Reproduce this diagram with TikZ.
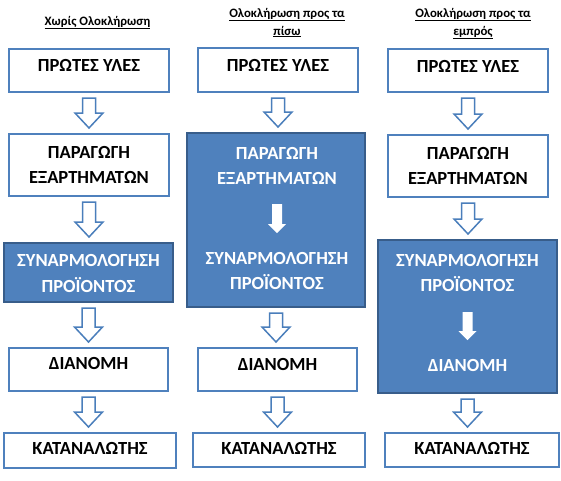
\documentclass[tikz,border=0pt]{standalone}
\usepackage{fontspec}
\setmainfont{Carlito}
\usetikzlibrary{calc}
\definecolor{accent}{HTML}{4F81BD}
\definecolor{accentdark}{HTML}{385D8A}
\definecolor{arrowline}{HTML}{4A7EBB}
\newcommand\hollowarrow[2]{%
  \draw[harrow] let \p1=(#1.south), \p2=(#2.north) in
    (\x1-6.5pt,\y1-5pt) -- (\x1+6.5pt,\y1-5pt) -- (\x1+6.5pt,\y2+20pt)
    -- (\x1+14pt,\y2+20pt) -- (\x1,\y2+5pt) -- (\x1-14pt,\y2+20pt)
    -- (\x1-6.5pt,\y2+20pt) -- cycle;}
\newcommand\whitearrow[2]{%
  \fill[white] let \p1=(#1), \p2=(#2) in
    (\x1-5pt,\y1) -- (\x1+5pt,\y1) -- (\x1+5pt,\y2+9pt)
    -- (\x1+9pt,\y2+9pt) -- (\x1,\y2) -- (\x1-9pt,\y2+9pt)
    -- (\x1-5pt,\y2+9pt) -- cycle;}
\begin{document}
\begin{tikzpicture}[x=1pt,y=-1pt,
  wbox/.style={draw=accent, line width=2pt, fill=white, inner sep=0pt},
  bbox/.style={draw=accentdark, line width=2pt, fill=accent, inner sep=0pt},
  txt/.style={font=\bfseries\fontsize{18.5}{22}\selectfont, anchor=base, inner sep=0pt, text=black},
  wtxt/.style={txt, text=white},
  ttl/.style={font=\bfseries\fontsize{12.8}{15}\selectfont, anchor=base, inner sep=0pt},
  harrow/.style={draw=arrowline, line width=1.5pt, fill=white, line join=miter}]
\useasboundingbox (0,0) rectangle (561,480);
% titles
\node[ttl] (h1) at (97.5,25) {\underline{Χωρίς Ολοκλήρωση}};
\node[ttl] (h2a) at (287,17) {\underline{Ολοκλήρωση προς τα}};
\node[ttl] (h2b) at (287,35) {\underline{πίσω}};
\node[ttl] (h3a) at (473,17) {\underline{Ολοκλήρωση προς τα}};
\node[ttl] (h3b) at (473,35) {\underline{εμπρός}};
% column 1
\node[wbox, minimum width=160pt, minimum height=43pt] (b11) at (89,70.5) {};
\node[wbox, minimum width=160pt, minimum height=62pt] (b12) at (89,165) {};
\node[bbox, minimum width=169pt, minimum height=59pt] (b13) at (88.5,272.5) {};
\node[wbox, minimum width=159pt, minimum height=43pt] (b14) at (88.5,369.5) {};
\node[wbox, minimum width=172pt, minimum height=35pt] (b15) at (90,450.5) {};
\node[txt] (t11) at (89,71) {ΠΡΩΤΕΣ ΥΛΕΣ};
\node[txt] (t12a) at (89,158) {ΠΑΡΑΓΩΓΗ};
\node[txt] (t12b) at (89,183) {ΕΞΑΡΤΗΜΑΤΩΝ};
\node[wtxt] (t13a) at (88.5,266) {ΣΥΝΑΡΜΟΛΟΓΗΣΗ};
\node[wtxt] (t13b) at (88.5,292) {ΠΡΟΪΟΝΤΟΣ};
\node[txt] (t14) at (88.5,369) {ΔΙΑΝΟΜΗ};
\node[txt] (t15) at (90,454) {ΚΑΤΑΝΑΛΩΤΗΣ};
% column 2
\node[wbox, minimum width=160pt, minimum height=44pt] (b21) at (278,70) {};
\node[bbox, minimum width=178pt, minimum height=174pt] (b22) at (276,220) {};
\node[wbox, minimum width=159pt, minimum height=43pt] (b24) at (277.5,369.5) {};
\node[wbox, minimum width=172pt, minimum height=34pt] (b25) at (279,450) {};
\node[txt] (t21) at (278,71) {ΠΡΩΤΕΣ ΥΛΕΣ};
\node[wtxt] (t22a) at (277,159) {ΠΑΡΑΓΩΓΗ};
\node[wtxt] (t22b) at (277,184) {ΕΞΑΡΤΗΜΑΤΩΝ};
\node[wtxt] (t23a) at (277,264) {ΣΥΝΑΡΜΟΛΟΓΗΣΗ};
\node[wtxt] (t23b) at (277,289) {ΠΡΟΪΟΝΤΟΣ};
\node[txt] (t24) at (277.5,370) {ΔΙΑΝΟΜΗ};
\node[txt] (t25) at (279,454) {ΚΑΤΑΝΑΛΩΤΗΣ};
\coordinate (c2s) at (277,204);
\coordinate (c2e) at (277,233);
% column 3
\node[wbox, minimum width=160pt, minimum height=43pt] (b31) at (468,70.5) {};
\node[wbox, minimum width=160pt, minimum height=62pt] (b32) at (468,166) {};
\node[bbox, minimum width=179pt, minimum height=153pt] (b33) at (467.5,316.5) {};
\node[wbox, minimum width=174pt, minimum height=34pt] (b35) at (472,450) {};
\node[txt] (t31) at (468,72) {ΠΡΩΤΕΣ ΥΛΕΣ};
\node[txt] (t32a) at (468,159) {ΠΑΡΑΓΩΓΗ};
\node[txt] (t32b) at (468,184) {ΕΞΑΡΤΗΜΑΤΩΝ};
\node[wtxt] (t33a) at (467.5,266) {ΣΥΝΑΡΜΟΛΟΓΗΣΗ};
\node[wtxt] (t33b) at (467.5,291) {ΠΡΟΪΟΝΤΟΣ};
\node[wtxt] (t34) at (467.5,371) {ΔΙΑΝΟΜΗ};
\node[txt] (t35) at (472,454) {ΚΑΤΑΝΑΛΩΤΗΣ};
\coordinate (c3s) at (467.5,312);
\coordinate (c3e) at (467.5,340);
% arrows
\hollowarrow{b11}{b12}
\hollowarrow{b12}{b13}
\hollowarrow{b13}{b14}
\hollowarrow{b14}{b15}
\hollowarrow{b21}{b22}
\hollowarrow{b22}{b24}
\hollowarrow{b24}{b25}
\hollowarrow{b31}{b32}
\hollowarrow{b32}{b33}
\hollowarrow{b33}{b35}
\whitearrow{c2s}{c2e}
\whitearrow{c3s}{c3e}
\end{tikzpicture}
\end{document}
